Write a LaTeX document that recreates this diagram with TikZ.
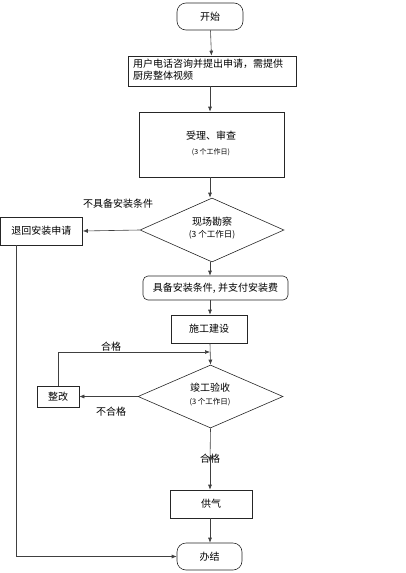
\documentclass[tikz,border=0pt]{standalone}
\usepackage{fontspec}
\newfontfamily\cjk{Noto Sans CJK SC}
\usetikzlibrary{shapes.geometric,arrows.meta}
\begin{document}
\begin{tikzpicture}[x=1pt,y=-1pt,
  every node/.style={font=\cjk\fontsize{10}{12}\selectfont, inner sep=0pt},
  box/.style={draw=black!85, line width=0.6pt, rectangle},
  term/.style={draw=black!85, line width=0.6pt, rounded corners=9pt, rectangle},
  dia/.style={draw=black!85, line width=0.6pt, diamond, aspect=2.25},
  sub/.style={font=\cjk\fontsize{7}{9}\selectfont},
  arr/.style={draw=black!75, line width=0.6pt, -{Latex[length=5pt,width=4pt]}},
  lbl/.style={font=\cjk\fontsize{10}{12}\selectfont}]
\useasboundingbox (0,0) rectangle (405,573);
\node[term, minimum width=66, minimum height=27] (start) at (210,16.5) {开始};
\node[box, minimum width=168, minimum height=30] (apply) at (212,71) {};
\node[align=left, anchor=north west] (applyt) at (133,59) {用户电话咨询并提出申请，需提供\\厨房整体视频};
\node[box, minimum width=145, minimum height=65] (review) at (211.5,144.5) {};
\node (reviewt) at (211,136) {受理、审查};
\node[sub] (reviewd) at (211,152) {(3 个工作日)};
\node[dia, minimum width=144, minimum height=64] (survey) at (212,230) {};
\node (surveyt) at (212,222) {现场勘察};
\node[font=\cjk\fontsize{8.5}{10}\selectfont] (surveyd) at (212,235) {(3 个工作日)};
\node[box, minimum width=82, minimum height=28] (back) at (41.5,231) {退回安装申请};
\node[lbl] (nolbl) at (118,204) {不具备安装条件};
\node[term, rounded corners=5pt, minimum width=145, minimum height=24] (pay) at (215.5,288) {具备安装条件, 并支付安装费};
\node[box, minimum width=76, minimum height=28] (build) at (209,329) {施工建设};
\node[dia, minimum width=145, minimum height=63] (accept) at (210.5,396.5) {};
\node (acceptt) at (210,388) {竣工验收};
\node[font=\cjk\fontsize{7.5}{9}\selectfont] (acceptd) at (210,402) {(3 个工作日)};
\node[box, minimum width=42, minimum height=21] (fix) at (58,396.5) {整改};
\node[lbl] (faillbl) at (111,412) {不合格};
\node[lbl] (passlbl1) at (111,347) {合格};
\node[lbl] (ok) at (210,459) {合格};
\node[box, minimum width=82, minimum height=28] (gas) at (211,504) {供气};
\node[term, minimum width=65, minimum height=27] (done) at (209.5,556.5) {办结};
\coordinate (merge) at (210,352);
\coordinate (x) at (210,0);
\draw[arr] (start) -- (apply);
\draw[arr] (apply.south -| x) -- (review.north -| x);
\draw[arr] (review.south -| x) -- (survey.north -| x);
\draw[arr] (survey.west) -- (back.east);
\draw[arr] (survey.south -| x) -- (pay.north -| x);
\draw[arr] (pay.south -| x) -- (build.north -| x);
\draw[arr] (build.south -| x) -- (accept.north);
\draw[arr] (fix.north) |- (merge);
\draw[arr] (accept.west) -- (fix.east);
\draw[arr] (accept.south) -- ([yshift=-8pt]ok.north);
\draw[arr] ([yshift=9pt]ok.south) -- (gas.north -| x);
\draw[arr] (gas.south -| x) -- (done.north -| x);
\draw[arr] (back.south -| 16,0) |- (done.west);
\end{tikzpicture}
\end{document}
